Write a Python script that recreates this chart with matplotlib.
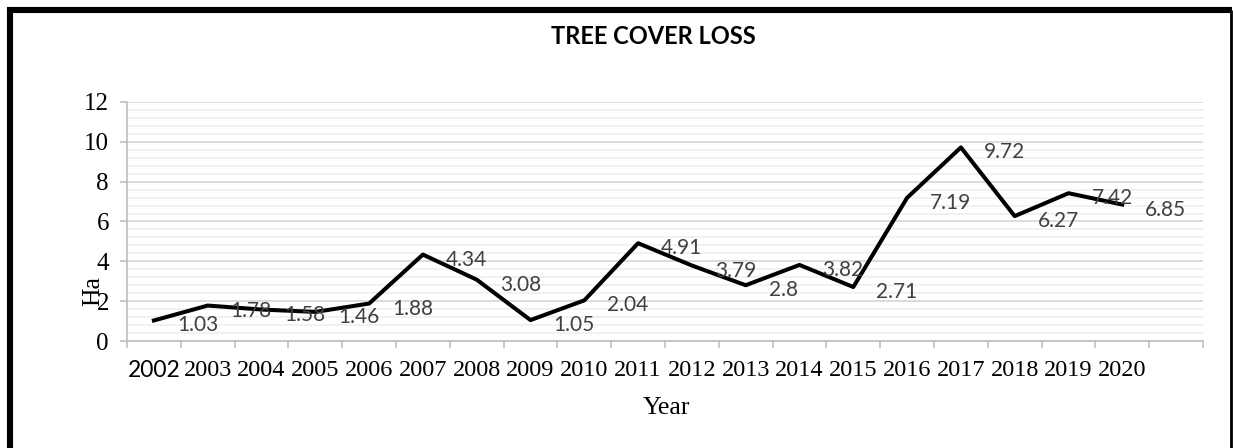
import matplotlib.pyplot as plt
from matplotlib.lines import Line2D
from matplotlib.ticker import MultipleLocator

years = ['2002', '2003', '2004', '2005', '2006', '2007', '2008', '2009', '2010', '2011',
         '2012', '2013', '2014', '2015', '2016', '2017', '2018', '2019', '2020']
loss = [1.03, 1.78, 1.58, 1.46, 1.88, 4.34, 3.08, 1.05, 2.04, 4.91,
        3.79, 2.8, 3.82, 2.71, 7.19, 9.72, 6.27, 7.42, 6.85]
n_slots = 20  # the category axis keeps one empty slot after the last year

W, H = 1233, 448
dpi = 100
fig = plt.figure(figsize=(W / dpi, H / dpi), dpi=dpi)
ax = fig.add_axes([127 / W, 1 - 341 / H, (1203 - 127) / W, (341 - 102) / H])

x = list(range(len(years)))
ax.plot(x, loss, color='black', linewidth=2.9, zorder=3)

for xi, v in zip(x, loss):
    ax.annotate(f'{v:g}', (xi, v), xytext=(23, -5), textcoords='offset pixels',
                ha='left', va='center', fontsize=15, color='#404040',
                family='Lato', zorder=4)

ax.set_xlim(-0.5, n_slots - 0.5)
ax.set_ylim(0, 12)

# y axis: majors every 2, light minors every 0.4
ax.yaxis.set_major_locator(MultipleLocator(2))
ax.yaxis.set_minor_locator(MultipleLocator(0.4))
ax.grid(axis='y', which='major', color='#d9d9d9', linewidth=1.3, zorder=1)
ax.grid(axis='y', which='minor', color='#f0f0f0', linewidth=1.3, zorder=0)
ax.tick_params(axis='y', which='major', length=5, width=1.2, color='#bfbfbf',
               labelsize=18, pad=8)
ax.tick_params(axis='y', which='minor', length=0)
for lab in ax.get_yticklabels():
    lab.set_family('Liberation Serif')

# x axis: labels at category centres, tick marks between categories
ax.set_xticks(x)
ax.set_xticklabels(years)
ax.set_xticks([i - 0.5 for i in range(n_slots + 1)], minor=True)
ax.tick_params(axis='x', which='major', length=0, labelsize=17.5, pad=14)
ax.tick_params(axis='x', which='minor', length=5, width=1.2, color='#bfbfbf')
for i, lab in enumerate(ax.get_xticklabels()):
    if i == 0:
        lab.set_family('Lato')
        lab.set_fontsize(16.5)
    else:
        lab.set_family('Liberation Serif')

for side in ['top', 'right']:
    ax.spines[side].set_visible(False)
for side in ['left', 'bottom']:
    ax.spines[side].set_color('#bfbfbf')
    ax.spines[side].set_linewidth(1.2)

fig.text(653 / W, 1 - 37 / H, 'TREE COVER LOSS', ha='center', va='center',
         fontsize=17, fontweight='bold', family='Lato')
fig.text(93 / W, 1 - 291 / H, 'Ha', rotation=90, ha='center', va='center',
         fontsize=18.5, family='Liberation Serif')
fig.text(666 / W, 1 - 408 / H, 'Year', ha='center', va='center',
         fontsize=18.5, family='Liberation Serif')

# page frame around the chart
frame = dict(transform=fig.transFigure, color='black', solid_capstyle='butt')
fig.add_artist(Line2D([10 / W, 10 / W], [0, 1 - 7 / H], linewidth=4.4, **frame))
fig.add_artist(Line2D([7 / W, 1232 / W], [1 - 10 / H, 1 - 10 / H], linewidth=4.4, **frame))
fig.add_artist(Line2D([1231 / W, 1231 / W], [0, 1 - 10 / H], linewidth=2, **frame))

fig.savefig('out.png', dpi=dpi)
